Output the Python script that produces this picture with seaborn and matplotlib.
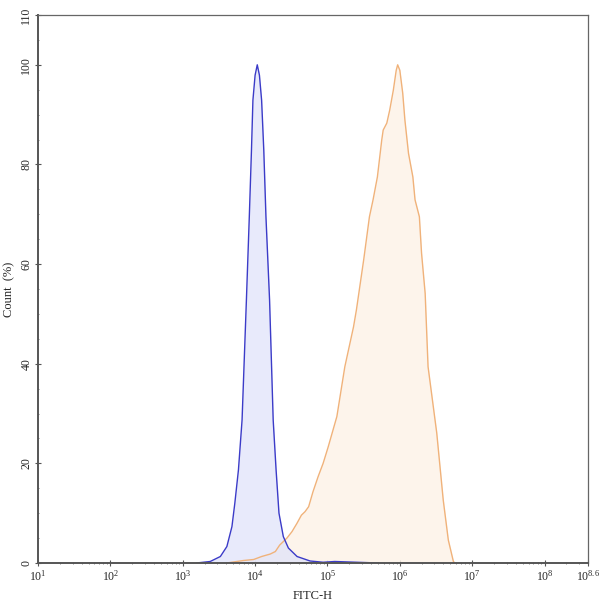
import numpy as np
import pandas as pd
import seaborn as sns
import matplotlib.pyplot as plt
from matplotlib.ticker import FixedLocator, MultipleLocator, NullFormatter

# histogram outlines (x as log10 of FITC-H, y as count %)
control_log = [3.19, 3.38, 3.52, 3.61, 3.68, 3.72, 3.77, 3.82, 3.88, 3.92,
               3.95, 3.97, 4.00, 4.03, 4.06, 4.09, 4.12, 4.15, 4.20, 4.25,
               4.29, 4.33, 4.39, 4.46, 4.58, 4.76, 4.94, 5.10, 5.30, 5.50,
               5.70]
control_pct = [0.0, 0.3, 1.3, 3.3, 7.3, 12.0, 18.7, 28.7, 52.8, 69.5,
               82.9, 92.9, 97.9, 100.0, 97.9, 92.9, 82.9, 69.5, 52.8, 28.7,
               18.7, 10.0, 5.3, 3.0, 1.3, 0.4, 0.15, 0.3, 0.2, 0.1,
               0.0]

sample_log = [3.61, 3.84, 3.98, 4.09, 4.21, 4.28, 4.34, 4.44, 4.51, 4.58,
              4.64, 4.69, 4.74, 4.80, 4.87, 4.94, 5.01, 5.13, 5.24, 5.36,
              5.40, 5.50, 5.58, 5.63, 5.69, 5.75, 5.77, 5.82, 5.86, 5.91,
              5.95, 5.97, 6.00, 6.04, 6.07, 6.12, 6.18, 6.21, 6.27, 6.30,
              6.35, 6.39, 6.51, 6.60, 6.67, 6.74, 6.76]
sample_pct = [0.0, 0.5, 0.7, 1.3, 1.8, 2.3, 3.6, 5.0, 6.3, 8.0,
              9.6, 10.3, 11.3, 14.3, 17.3, 20.0, 23.3, 29.4, 39.4, 47.4,
              50.8, 60.8, 69.5, 72.9, 77.5, 84.9, 86.9, 88.3, 90.9, 94.9,
              98.9, 100.0, 98.9, 94.3, 88.9, 82.2, 77.5, 72.9, 69.5, 62.2,
              54.1, 39.4, 26.1, 12.6, 4.6, 0.3, 0.0]

x_exponents = [1, 2, 3, 4, 5, 6, 7, 8, 8.6]
x_ticklabels = ["$10^{1}$", "$10^{2}$", "$10^{3}$", "$10^{4}$", "$10^{5}$",
                "$10^{6}$", "$10^{7}$", "$10^{8}$", "$10^{8.6}$"]
y_ticks = [0, 20, 40, 60, 80, 100, 110]

sns.set_style("white")
plt.rcParams['font.family'] = ['Liberation Serif', 'DejaVu Serif']
plt.rcParams['mathtext.fontset'] = 'custom'
plt.rcParams['mathtext.rm'] = 'Liberation Serif'
plt.rcParams['mathtext.it'] = 'Liberation Serif'

ctrl = pd.DataFrame({"fitc": np.power(10.0, control_log), "pct": control_pct})
samp = pd.DataFrame({"fitc": np.power(10.0, sample_log), "pct": sample_pct})

fig = plt.figure(figsize=(6, 6.02), dpi=100)
ax = fig.add_axes([0.0633, 0.0648, 0.9167, 0.9103])

ax.fill_between(samp["fitc"], samp["pct"], color="#fdf3e8", alpha=0.85, lw=0)
sns.lineplot(data=samp, x="fitc", y="pct", ax=ax, color="#f0b27a", lw=1.0)
ax.fill_between(ctrl["fitc"], ctrl["pct"], color="#dfe2fa", alpha=0.7, lw=0)
sns.lineplot(data=ctrl, x="fitc", y="pct", ax=ax, color="#3b3bc8", lw=1.0)

ax.set_xscale("log")
ax.set_xlim(10, 10 ** 8.6)
ax.set_ylim(0, 110)
ax.xaxis.set_major_locator(FixedLocator([10 ** e for e in x_exponents]))
ax.set_xticklabels(x_ticklabels, fontsize=8.5)
ax.xaxis.set_minor_locator(FixedLocator(
    [m * 10 ** e for e in range(1, 9) for m in range(2, 10) if m * 10 ** e < 10 ** 8.6]))
ax.xaxis.set_minor_formatter(NullFormatter())
ax.set_yticks(y_ticks)
ax.set_yticklabels([str(v) for v in y_ticks], fontsize=8.5, rotation=90, va="center")
ax.yaxis.set_minor_locator(MultipleLocator(5))

ax.tick_params(which="major", direction="inout", length=4, width=0.8, color="#555555", pad=2)
ax.tick_params(which="minor", direction="inout", length=2, width=0.6, color="#777777")
ax.tick_params(axis="both", which="both", bottom=True, left=True, top=False, right=False)

for side in ["left", "bottom"]:
    ax.spines[side].set_color("#555555")
    ax.spines[side].set_linewidth(1.4)
for side in ["top", "right"]:
    ax.spines[side].set_color("#666666")
    ax.spines[side].set_linewidth(0.9)

ax.set_xlabel("FITC-H", fontsize=9, labelpad=5)
ax.set_ylabel("Count  (%)", fontsize=9, labelpad=4)

fig.savefig("out.png", dpi=100)
